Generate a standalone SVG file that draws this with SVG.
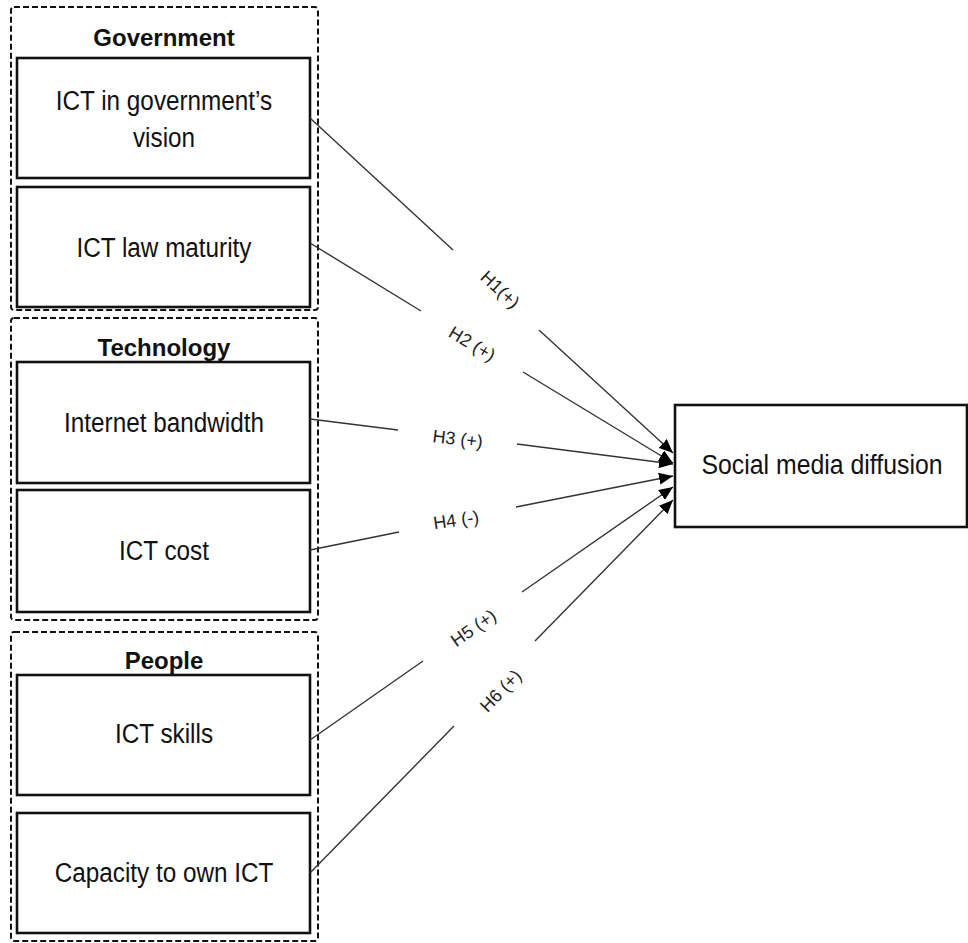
<svg xmlns="http://www.w3.org/2000/svg" width="968" height="943" viewBox="0 0 968 943">
<style>
.grp{fill:none;stroke:#111;stroke-width:2;stroke-dasharray:6,3}
.box{fill:#fff;stroke:#111;stroke-width:2.6}
.t{font-family:"Liberation Sans",Arial,sans-serif;font-size:27px;fill:#111;text-anchor:middle}
.h{font-family:"Liberation Sans",Arial,sans-serif;font-size:24px;font-weight:bold;fill:#111;text-anchor:middle}
.lbl{font-family:"Liberation Sans",Arial,sans-serif;font-size:18px;fill:#222;text-anchor:middle}
.c{stroke:#333;stroke-width:1.4;fill:none}
</style>
<defs>
<marker id="arr" markerUnits="userSpaceOnUse" markerWidth="15" markerHeight="12" refX="14" refY="6" orient="auto">
<path d="M0,0 L14,6 L0,12 z" fill="#000"/>
</marker>
</defs>
<rect width="968" height="943" fill="#fff"/>
<g id="grp-government">
<rect class="grp" x="11" y="7" width="307" height="303" rx="3"/>
<text class="h" x="164" y="46">Government</text>
</g>
<g id="grp-technology">
<rect class="grp" x="11" y="318" width="307" height="302" rx="3"/>
<text class="h" x="164" y="356">Technology</text>
</g>
<g id="grp-people">
<rect class="grp" x="11" y="632" width="307" height="309" rx="3"/>
<text class="h" x="164" y="669">People</text>
</g>
<g id="n-vision">
<rect class="box" x="17" y="58" width="293" height="120"/>
<text class="t" transform="translate(164,110) scale(0.9,1)">ICT in government’s</text>
<text class="t" transform="translate(164,147) scale(0.9,1)">vision</text>
</g>
<g id="n-law">
<rect class="box" x="17" y="187" width="293" height="120"/>
<text class="t" transform="translate(164,257) scale(0.9,1)">ICT law maturity</text>
</g>
<g id="n-bandwidth">
<rect class="box" x="17" y="362" width="293" height="121"/>
<text class="t" transform="translate(164,432) scale(0.9,1)">Internet bandwidth</text>
</g>
<g id="n-cost">
<rect class="box" x="17" y="490" width="293" height="122"/>
<text class="t" transform="translate(164,560) scale(0.9,1)">ICT cost</text>
</g>
<g id="n-skills">
<rect class="box" x="17" y="675" width="293" height="120"/>
<text class="t" transform="translate(164,743) scale(0.9,1)">ICT skills</text>
</g>
<g id="n-capacity">
<rect class="box" x="17" y="813" width="293" height="120"/>
<text class="t" transform="translate(164,882) scale(0.9,1)">Capacity to own ICT</text>
</g>
<g id="n-social">
<rect class="box" x="675" y="405" width="292" height="122"/>
<text class="t" transform="translate(822,474) scale(0.92,1)">Social media diffusion</text>
</g>
<g id="connectors">
<line class="c" x1="310" y1="118" x2="453" y2="250"/>
<line class="c" x1="539" y1="330" x2="673" y2="453" marker-end="url(#arr)"/>
<line class="c" x1="310" y1="243" x2="421" y2="311"/>
<line class="c" x1="523" y1="372" x2="673" y2="463" marker-end="url(#arr)"/>
<line class="c" x1="310" y1="419" x2="398" y2="430"/>
<line class="c" x1="517" y1="444" x2="673" y2="464" marker-end="url(#arr)"/>
<line class="c" x1="310" y1="550" x2="399" y2="532"/>
<line class="c" x1="516" y1="507" x2="673" y2="476" marker-end="url(#arr)"/>
<line class="c" x1="310" y1="740" x2="423" y2="661"/>
<line class="c" x1="522" y1="592" x2="673" y2="487" marker-end="url(#arr)"/>
<line class="c" x1="310" y1="873" x2="454" y2="726"/>
<line class="c" x1="535" y1="641" x2="673" y2="500" marker-end="url(#arr)"/>
<text class="lbl" transform="translate(496,294) rotate(43)">H1(+)</text>
<text class="lbl" transform="translate(469,349) rotate(31)">H2 (+)</text>
<text class="lbl" transform="translate(457,445) rotate(7)">H3 (+)</text>
<text class="lbl" transform="translate(457,526) rotate(-8)">H4 (-)</text>
<text class="lbl" transform="translate(477,633) rotate(-35)">H5 (+)</text>
<text class="lbl" transform="translate(505,695) rotate(-46)">H6 (+)</text>
</g>
</svg>
